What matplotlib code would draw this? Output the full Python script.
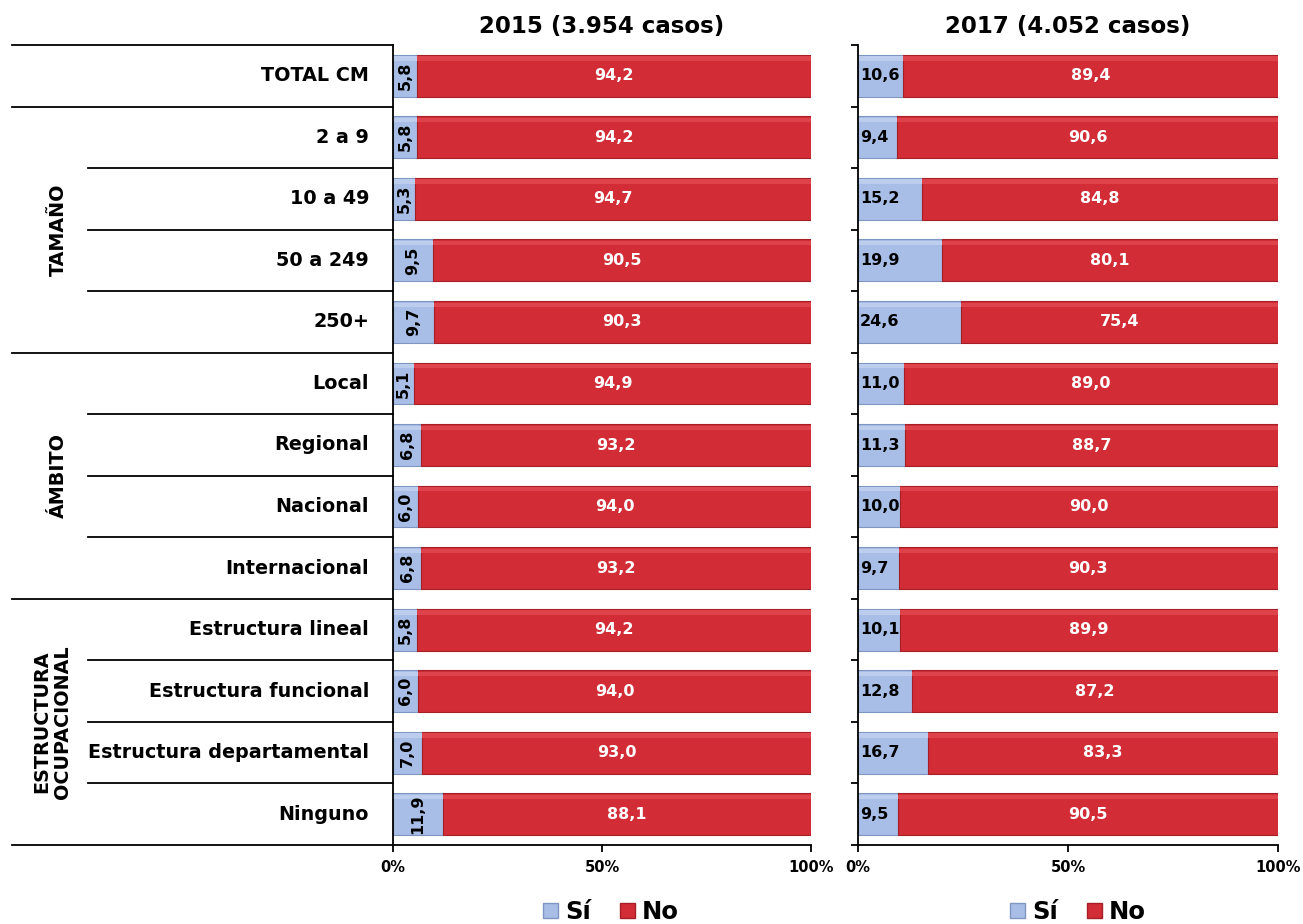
import matplotlib
matplotlib.use("Agg")
import matplotlib.pyplot as plt
from matplotlib.patches import Patch
from matplotlib.transforms import blended_transform_factory

categories = ["TOTAL CM", "2 a 9", "10 a 49", "50 a 249", "250+",
              "Local", "Regional", "Nacional", "Internacional",
              "Estructura lineal", "Estructura funcional",
              "Estructura departamental", "Ninguno"]
groups = [("TAMAÑO", 1, 5), ("ÁMBITO", 5, 9), ("ESTRUCTURA\nOCUPACIONAL", 9, 13)]

si_2015 = [5.8, 5.8, 5.3, 9.5, 9.7, 5.1, 6.8, 6.0, 6.8, 5.8, 6.0, 7.0, 11.9]
no_2015 = [94.2, 94.2, 94.7, 90.5, 90.3, 94.9, 93.2, 94.0, 93.2, 94.2, 94.0, 93.0, 88.1]
si_2017 = [10.6, 9.4, 15.2, 19.9, 24.6, 11.0, 11.3, 10.0, 9.7, 10.1, 12.8, 16.7, 9.5]
no_2017 = [89.4, 90.6, 84.8, 80.1, 75.4, 89.0, 88.7, 90.0, 90.3, 89.9, 87.2, 83.3, 90.5]

titles = ["2015 (3.954 casos)", "2017 (4.052 casos)"]
xtick_vals = [0, 50, 100]
xtick_labels = ["0%", "50%", "100%"]
legend_labels = ["Sí", "No"]

BLUE = "#A8BEE6"
BLUE_EDGE = "#8096C2"
BLUE_HI = "#BCCDEE"
RED = "#D22C36"
RED_EDGE = "#A51F27"
RED_HI = "#DE434C"

W, H = 1303, 924
fig = plt.figure(figsize=(W / 100, H / 100), dpi=100)

def fx(px):
    return px / W

def fy(py):
    return 1 - py / H

ax_top, ax_bot = 45, 845
axL = fig.add_axes([fx(393), fy(ax_bot), fx(811) - fx(393), fy(ax_top) - fy(ax_bot)])
axR = fig.add_axes([fx(858), fy(ax_bot), fx(1278) - fx(858), fy(ax_top) - fy(ax_bot)])

def fmt(v):
    return f"{v:.1f}".replace(".", ",")

n = len(categories)
ypos = [i + 0.5 for i in range(n)]
bar_h = 0.68

for ax, si, no, title, rotate in [(axL, si_2015, no_2015, titles[0], True),
                                  (axR, si_2017, no_2017, titles[1], False)]:
    ax.barh(ypos, si, height=bar_h, color=BLUE, edgecolor=BLUE_EDGE, linewidth=0.8)
    ax.barh(ypos, no, left=si, height=bar_h, color=RED, edgecolor=RED_EDGE, linewidth=0.8)
    # subtle top highlight
    ax.barh([y - bar_h / 2 + 0.06 for y in ypos], si, height=0.07, color=BLUE_HI, linewidth=0)
    ax.barh([y - bar_h / 2 + 0.06 for y in ypos], no, left=si, height=0.07, color=RED_HI, linewidth=0)
    ax.set_xlim(0, 100)
    ax.set_ylim(n, 0)
    for y, s, r in zip(ypos, si, no):
        if rotate:
            ax.text(s / 2, y, fmt(s), rotation=90, ha="center", va="center",
                    fontsize=11.5, fontweight="bold", color="black")
        else:
            ax.text(0.5, y, fmt(s), ha="left", va="center",
                    fontsize=11.5, fontweight="bold", color="black")
        ax.text(s + r / 2, y, fmt(r), ha="center", va="center",
                fontsize=11.5, fontweight="bold", color="white")
    ax.set_title(title, fontsize=16.5, fontweight="bold", pad=9)
    ax.spines["top"].set_visible(False)
    ax.spines["right"].set_visible(False)
    for sp in ("left", "bottom"):
        ax.spines[sp].set_linewidth(1.3)
    ax.set_xticks(xtick_vals)
    ax.set_xticklabels(xtick_labels, fontsize=10.5, fontweight="bold")
    ax.tick_params(axis="x", direction="out", length=5, width=1.3, pad=6)
    ax.set_yticks(range(n + 1))
    ax.set_yticklabels([])

axL.tick_params(axis="y", length=0)
axR.tick_params(axis="y", direction="out", length=5, width=1.3)

# left-margin table lines and labels
tr = blended_transform_factory(axL.transAxes, axL.transData)
x_major = (12 - 393) / (811 - 393)
x_minor = (88 - 393) / (811 - 393)
major = {0, 1, 5, 9, 13}
for b in range(n + 1):
    x0 = x_major if b in major else x_minor
    axL.plot([x0, 0], [b, b], color="black", lw=1.3, transform=tr, clip_on=False)

x_lab = (369 - 393) / (811 - 393)
for y, c in zip(ypos, categories):
    axL.text(x_lab, y, c, transform=tr, ha="right", va="center",
             fontsize=13.8, fontweight="bold")

for name, a, b in groups:
    xg = (58 - 393) / (811 - 393) if "\n" not in name else (52 - 393) / (811 - 393)
    axL.text(xg, (a + b) / 2, name, transform=tr, rotation=90, ha="center",
             va="center", fontsize=13.8, fontweight="bold", multialignment="center",
             linespacing=1.15)

# legends
handles = [Patch(facecolor=BLUE, edgecolor=BLUE_EDGE), Patch(facecolor=RED, edgecolor=RED_EDGE)]
for cx in (611, 1078):
    fig.legend(handles, legend_labels, loc="lower center", bbox_to_anchor=(fx(cx), -0.024),
               ncol=2, frameon=False, prop={"size": 17.5, "weight": "bold"},
               handlelength=0.6, handleheight=0.6, handletextpad=0.3, columnspacing=1.2)

fig.savefig("out.png", dpi=100)
